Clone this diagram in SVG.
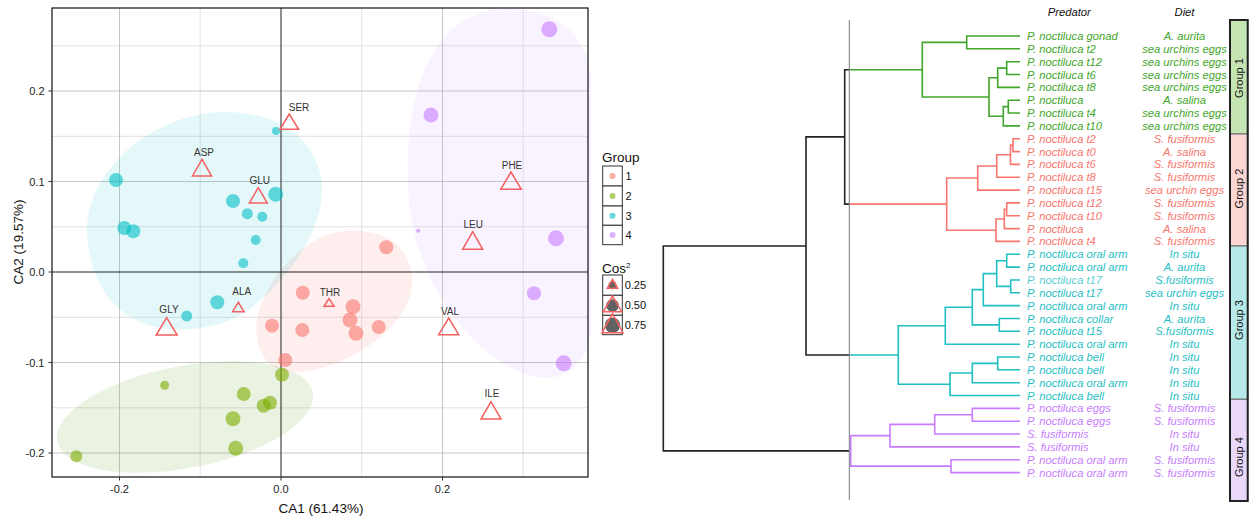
<svg xmlns="http://www.w3.org/2000/svg" width="1258" height="521" viewBox="0 0 1258 521">
<style>
text{font-family:"Liberation Sans",Arial,sans-serif}
.tick{font-size:11px;fill:#222}
.axt{font-size:13.5px;fill:#111}
.aa{font-size:10px;fill:#333;text-anchor:middle}
.tri{fill:none;stroke:#F4605F;stroke-width:1.5;stroke-linejoin:miter}
.gmaj{stroke:#b8b8b8;stroke-width:0.8}
.gmin{stroke:#e2e2e2;stroke-width:1}
.p1{fill:#F8766D;fill-opacity:.6}
.p2{fill:#7CAE00;fill-opacity:.6}
.p3{fill:#00BFC4;fill-opacity:.6}
.p4{fill:#C77CFF;fill-opacity:.6}
.lk{fill:#fff;stroke:#333;stroke-width:1}
.lt{font-size:11px;fill:#111}
.leaf{font-size:11.2px;font-style:italic}
.diet{font-size:11.2px;font-style:italic;text-anchor:middle}
.c1{fill:#3FA62A}.c2{fill:#F8766D}.c3{fill:#1FBFC4}.c4{fill:#C77CFF}
.b{fill:none;stroke-width:1.6}
.s1{stroke:#3FA62A}.s2{stroke:#F8766D}.s3{stroke:#1FBFC4}.s4{stroke:#C77CFF}.s0{stroke:#222}
.gl{font-size:11px;fill:#111;text-anchor:middle}
</style>

<g id="ca-plot">
  <rect x="52" y="8" width="536" height="469" fill="#fff"/>
  <g id="grid">
    <line class="gmin" x1="52" y1="45.8" x2="588" y2="45.8"/>
    <line class="gmin" x1="52" y1="136.3" x2="588" y2="136.3"/>
    <line class="gmin" x1="52" y1="226.8" x2="588" y2="226.8"/>
    <line class="gmin" x1="52" y1="317.3" x2="588" y2="317.3"/>
    <line class="gmin" x1="52" y1="407.8" x2="588" y2="407.8"/>
    <line class="gmin" x1="200.2" y1="8" x2="200.2" y2="477"/>
    <line class="gmin" x1="361.7" y1="8" x2="361.7" y2="477"/>
    <line class="gmin" x1="523.2" y1="8" x2="523.2" y2="477"/>
    <line class="gmaj" x1="52" y1="91" x2="588" y2="91"/>
    <line class="gmaj" x1="52" y1="181.5" x2="588" y2="181.5"/>
    <line class="gmaj" x1="52" y1="362.5" x2="588" y2="362.5"/>
    <line class="gmaj" x1="52" y1="453" x2="588" y2="453"/>
    <line class="gmaj" x1="119.5" y1="8" x2="119.5" y2="477"/>
    <line class="gmaj" x1="442.5" y1="8" x2="442.5" y2="477"/>
  </g>
  <g id="hulls">
    <path d="M408,185 C404,95 432,10 505,9 C560,8 590,40 591,80 L591,330 C588,365 565,378 545,378 C490,376 410,290 408,185 Z" fill="#C77CFF" fill-opacity="0.1"/>
    <path d="M257,338 C250,300 295,235 345,231 C390,228 413,250 412,285 C410,325 350,368 300,372 C272,374 260,358 257,338 Z" fill="#F8766D" fill-opacity="0.12"/>
    <path d="M87,232 C86,165 160,112 225,112 C290,112 323,150 322,192 C321,240 275,295 240,315 C215,330 170,335 140,322 C105,307 88,270 87,232 Z" fill="#00BFC4" fill-opacity="0.1"/>
    <ellipse cx="185" cy="417" rx="130" ry="51" transform="rotate(-10.8 185 417)" fill="#7CB342" fill-opacity="0.16"/>
  </g>
  <line x1="52" y1="272" x2="588" y2="272" stroke="#222" stroke-width="1"/>
  <line x1="281" y1="8" x2="281" y2="477" stroke="#222" stroke-width="1"/>
  <g id="points-group3">
    <circle class="p3" cx="116" cy="180" r="7"/>
    <circle class="p3" cx="124.3" cy="228" r="7"/>
    <circle class="p3" cx="133.3" cy="231.3" r="7"/>
    <circle class="p3" cx="233" cy="201" r="7"/>
    <circle class="p3" cx="247.3" cy="213.7" r="5.5"/>
    <circle class="p3" cx="262.3" cy="216.7" r="5"/>
    <circle class="p3" cx="255.7" cy="240" r="5"/>
    <circle class="p3" cx="276" cy="131" r="4"/>
    <circle class="p3" cx="275.7" cy="194.3" r="7.5"/>
    <circle class="p3" cx="243.3" cy="263.3" r="5"/>
    <circle class="p3" cx="217.3" cy="302.3" r="7"/>
    <circle class="p3" cx="186.7" cy="316" r="5.5"/>
  </g>
  <g id="points-group2">
    <circle class="p2" cx="76.3" cy="456.3" r="6"/>
    <circle class="p2" cx="164.7" cy="385.3" r="4.5"/>
    <circle class="p2" cx="243.7" cy="394" r="7"/>
    <circle class="p2" cx="233" cy="418.7" r="7.5"/>
    <circle class="p2" cx="235.7" cy="448.3" r="7.5"/>
    <circle class="p2" cx="263.7" cy="405.7" r="7"/>
    <circle class="p2" cx="270" cy="402.7" r="7"/>
    <circle class="p2" cx="282" cy="374.7" r="7"/>
  </g>
  <g id="points-group1">
    <circle class="p1" cx="386.3" cy="247.3" r="7"/>
    <circle class="p1" cx="302.7" cy="292.7" r="7"/>
    <circle class="p1" cx="353" cy="306.7" r="7.5"/>
    <circle class="p1" cx="350" cy="320" r="7.5"/>
    <circle class="p1" cx="356" cy="333.3" r="7.5"/>
    <circle class="p1" cx="378.7" cy="327" r="7"/>
    <circle class="p1" cx="272" cy="325.7" r="7"/>
    <circle class="p1" cx="302.3" cy="330" r="7"/>
    <circle class="p1" cx="285.3" cy="360" r="7"/>
  </g>
  <g id="points-group4">
    <circle class="p4" cx="549.3" cy="29.3" r="8"/>
    <circle class="p4" cx="431" cy="115" r="7.5"/>
    <circle class="p4" cx="418.3" cy="230.7" r="2"/>
    <circle class="p4" cx="556" cy="238.3" r="8"/>
    <circle class="p4" cx="534" cy="293.3" r="7"/>
    <circle class="p4" cx="563.7" cy="363.3" r="8"/>
  </g>
  <g id="amino-acids">
    <g id="aa-SER"><polygon class="tri" points="289.3,114 280,129.3 298.6,129.3"/><text class="aa" x="299" y="110.5">SER</text></g>
    <g id="aa-ASP"><polygon class="tri" points="202,159.3 192.5,176 211.5,176"/><text class="aa" x="204" y="156.2">ASP</text></g>
    <g id="aa-GLU"><polygon class="tri" points="258.3,187.7 249.3,203 267.3,203"/><text class="aa" x="259.7" y="184.2">GLU</text></g>
    <g id="aa-PHE"><polygon class="tri" points="511,172 500.7,189.3 521.3,189.3"/><text class="aa" x="512" y="169.2">PHE</text></g>
    <g id="aa-LEU"><polygon class="tri" points="472.7,231.7 462.7,249.3 482.7,249.3"/><text class="aa" x="473.3" y="227.8">LEU</text></g>
    <g id="aa-GLY"><polygon class="tri" points="166.7,317.7 156.2,335 177.2,335"/><text class="aa" x="169" y="312.5">GLY</text></g>
    <g id="aa-ALA"><polygon class="tri" points="238.3,302.3 232.6,311.7 244,311.7"/><text class="aa" x="241.7" y="294.5">ALA</text></g>
    <g id="aa-THR"><polygon class="tri" points="329,298.7 324,306.3 334,306.3"/><text class="aa" x="330" y="295.8">THR</text></g>
    <g id="aa-VAL"><polygon class="tri" points="448.7,318 438.7,334.7 458.7,334.7"/><text class="aa" x="450" y="314.5">VAL</text></g>
    <g id="aa-ILE"><polygon class="tri" points="491,401.7 481,419 501,419"/><text class="aa" x="492" y="397.2">ILE</text></g>
  </g>
  <rect x="52" y="8" width="536" height="469" fill="none" stroke="#222" stroke-width="1.3"/>
  <g id="axes" stroke="#333" stroke-width="1">
    <line x1="48.5" y1="91" x2="52" y2="91"/>
    <line x1="48.5" y1="181.5" x2="52" y2="181.5"/>
    <line x1="48.5" y1="272" x2="52" y2="272"/>
    <line x1="48.5" y1="362.5" x2="52" y2="362.5"/>
    <line x1="48.5" y1="453" x2="52" y2="453"/>
    <line x1="119.5" y1="477" x2="119.5" y2="480.5"/>
    <line x1="281" y1="477" x2="281" y2="480.5"/>
    <line x1="442.5" y1="477" x2="442.5" y2="480.5"/>
  </g>
  <g text-anchor="end">
    <text class="tick" x="44.5" y="95">0.2</text>
    <text class="tick" x="44.5" y="185.5">0.1</text>
    <text class="tick" x="44.5" y="276">0.0</text>
    <text class="tick" x="44.5" y="366.5">-0.1</text>
    <text class="tick" x="44.5" y="457">-0.2</text>
  </g>
  <g text-anchor="middle">
    <text class="tick" x="119.5" y="492.7">-0.2</text>
    <text class="tick" x="281" y="492.7">0.0</text>
    <text class="tick" x="442.5" y="492.7">0.2</text>
    <text class="axt" x="321" y="513">CA1 (61.43%)</text>
    <text class="axt" transform="translate(23,242) rotate(-90)">CA2 (19.57%)</text>
  </g>
  <g id="legend-group">
    <text x="602" y="161.5" style="font-size:13.5px;fill:#111">Group</text>
    <rect class="lk" x="602.7" y="166" width="19.6" height="20"/>
    <rect class="lk" x="602.7" y="186" width="19.6" height="20"/>
    <rect class="lk" x="602.7" y="206" width="19.6" height="19.3"/>
    <rect class="lk" x="602.7" y="225.3" width="19.6" height="19.4"/>
    <circle class="p1" cx="612.5" cy="176" r="3"/>
    <circle class="p2" cx="612.5" cy="196" r="3"/>
    <circle class="p3" cx="612.5" cy="215.7" r="3"/>
    <circle class="p4" cx="612.5" cy="235" r="3"/>
    <text class="lt" x="625.5" y="180">1</text>
    <text class="lt" x="625.5" y="200">2</text>
    <text class="lt" x="625.5" y="219.7">3</text>
    <text class="lt" x="625.5" y="239">4</text>
  </g>
  <g id="legend-cos2">
    <text x="602" y="272.5" style="font-size:13.5px;fill:#111">Cos<tspan dy="-5" style="font-size:8px">2</tspan></text>
    <rect class="lk" x="602.7" y="275" width="19.6" height="20.3"/>
    <rect class="lk" x="602.7" y="295.3" width="19.6" height="20"/>
    <rect class="lk" x="602.7" y="315.3" width="19.6" height="19.4"/>
    <circle cx="612.5" cy="285.3" r="4" fill="#000" fill-opacity="0.62"/>
    <polygon class="tri" points="612.5,279.3 607.3,288.3 617.7,288.3"/>
    <circle cx="612.5" cy="305.5" r="6.3" fill="#000" fill-opacity="0.62"/>
    <polygon class="tri" points="612.5,296 603.3,311.7 621.7,311.7"/>
    <circle cx="612.5" cy="325.2" r="7.7" fill="#000" fill-opacity="0.62"/>
    <polygon class="tri" points="612.5,313.7 602,332.7 623,332.7"/>
    <text class="lt" x="624.7" y="289.3">0.25</text>
    <text class="lt" x="624.7" y="309.3">0.50</text>
    <text class="lt" x="624.7" y="329">0.75</text>
  </g>
</g>

<g id="dendrogram">
  <g id="connectors">
    <path class="b s0" d="M849,69.7 H844.7 V204.1 H849 M844.7,136.9 H806 V355 H849 M806,246 H663.3 V450.9 H849"/>
    <path class="b s1" d="M1020,36 H966.7 V48.8 H1020 M1020,61.7 H1006.7 V74.5 H1020 M1006.7,68.1 H997.7 V87.4 H1020 M1020,100.2 H1008.3 V113 H1020 M1008.3,106.6 H1003.3 V125.9 H1020 M997.7,77.7 H989 V116.2 H1003.3 M966.7,42.4 H922.3 V97 H989 M922.3,69.7 H849"/>
    <path class="b s2" d="M1020,138.7 H1013 V151.6 H1020 M1013,145.1 H1010.5 V164.4 H1020 M1010.5,154.8 H996.7 V177.2 H1020 M996.7,166 H977.7 V190.1 H1020 M1020,202.9 H1006.7 V215.8 H1020 M1006.7,209.3 H1004.3 V228.6 H1020 M1004.3,219 H996 V241.4 H1020 M977.7,178 H946.7 V230.2 H996 M946.7,204.1 H849"/>
    <path class="b s3" d="M1020,254.3 H1006.7 V267.1 H1020 M1020,280 H1010.7 V292.8 H1020 M1006.7,260.7 H996.7 V286.4 H1010.7 M996.7,273.6 H983.3 V305.6 H1020 M1020,318.5 H999.3 V331.3 H1020 M983.3,289.6 H972.3 V324.9 H999.3 M972.3,307.3 H945.3 V344.2 H1020 M1020,357 H997.7 V369.8 H1020 M997.7,363.4 H972.3 V382.7 H1020 M972.3,373 H950 V395.5 H1020 M945.3,325.7 H898.3 V384.3 H950 M898.3,355 H849"/>
    <path class="b s4" d="M1020,408.4 H972.3 V421.2 H1020 M972.3,414.8 H934.7 V434 H1020 M934.7,424.4 H890 V446.9 H1020 M1020,459.7 H951 V472.6 H1020 M890,435.6 H850.7 V466.1 H951"/>
    <line x1="849.3" y1="20" x2="849.3" y2="500" stroke="#7a7a7a" stroke-width="1"/>
  </g>
  <text x="1069.3" y="16" style="font-size:11.2px;font-style:italic;fill:#111;text-anchor:middle">Predator</text>
  <text x="1184.5" y="16" style="font-size:11.2px;font-style:italic;fill:#111;text-anchor:middle">Diet</text>
  <g id="leaves">
    <g id="leaf-0" class="c1"><text class="leaf" x="1027" y="40">P. noctiluca gonad</text><text class="diet" x="1184.5" y="40">A. aurita</text></g>
    <g id="leaf-1" class="c1"><text class="leaf" x="1027" y="52.8">P. noctiluca t2</text><text class="diet" x="1184.5" y="52.8">sea urchins eggs</text></g>
    <g id="leaf-2" class="c1"><text class="leaf" x="1027" y="65.7">P. noctiluca t12</text><text class="diet" x="1184.5" y="65.7">sea urchins eggs</text></g>
    <g id="leaf-3" class="c1"><text class="leaf" x="1027" y="78.5">P. noctiluca t6</text><text class="diet" x="1184.5" y="78.5">sea urchins eggs</text></g>
    <g id="leaf-4" class="c1"><text class="leaf" x="1027" y="91.4">P. noctiluca t8</text><text class="diet" x="1184.5" y="91.4">sea urchins eggs</text></g>
    <g id="leaf-5" class="c1"><text class="leaf" x="1027" y="104.2">P. noctiluca</text><text class="diet" x="1184.5" y="104.2">A. salina</text></g>
    <g id="leaf-6" class="c1"><text class="leaf" x="1027" y="117">P. noctiluca t4</text><text class="diet" x="1184.5" y="117">sea urchins eggs</text></g>
    <g id="leaf-7" class="c1"><text class="leaf" x="1027" y="129.9">P. noctiluca t10</text><text class="diet" x="1184.5" y="129.9">sea urchins eggs</text></g>
    <g id="leaf-8" class="c2"><text class="leaf" x="1027" y="142.7">P. noctiluca t2</text><text class="diet" x="1184.5" y="142.7">S. fusiformis</text></g>
    <g id="leaf-9" class="c2"><text class="leaf" x="1027" y="155.6">P. noctiluca t0</text><text class="diet" x="1184.5" y="155.6">A. salina</text></g>
    <g id="leaf-10" class="c2"><text class="leaf" x="1027" y="168.4">P. noctiluca t6</text><text class="diet" x="1184.5" y="168.4">S. fusiformis</text></g>
    <g id="leaf-11" class="c2"><text class="leaf" x="1027" y="181.2">P. noctiluca t8</text><text class="diet" x="1184.5" y="181.2">S. fusiformis</text></g>
    <g id="leaf-12" class="c2"><text class="leaf" x="1027" y="194.1">P. noctiluca t15</text><text class="diet" x="1184.5" y="194.1">sea urchin eggs</text></g>
    <g id="leaf-13" class="c2"><text class="leaf" x="1027" y="206.9">P. noctiluca t12</text><text class="diet" x="1184.5" y="206.9">S. fusiformis</text></g>
    <g id="leaf-14" class="c2"><text class="leaf" x="1027" y="219.8">P. noctiluca t10</text><text class="diet" x="1184.5" y="219.8">S. fusiformis</text></g>
    <g id="leaf-15" class="c2"><text class="leaf" x="1027" y="232.6">P. noctiluca</text><text class="diet" x="1184.5" y="232.6">A. salina</text></g>
    <g id="leaf-16" class="c2"><text class="leaf" x="1027" y="245.4">P. noctiluca t4</text><text class="diet" x="1184.5" y="245.4">S. fusiformis</text></g>
    <g id="leaf-17" class="c3"><text class="leaf" x="1027" y="258.3">P. noctiluca oral arm</text><text class="diet" x="1184.5" y="258.3">In situ</text></g>
    <g id="leaf-18" class="c3"><text class="leaf" x="1027" y="271.1">P. noctiluca oral arm</text><text class="diet" x="1184.5" y="271.1">A. aurita</text></g>
    <g id="leaf-19" class="c3"><text class="leaf" x="1027" y="284" fill-opacity="0.8">P. noctiluca t17</text><text class="diet" x="1184.5" y="284">S.fusiformis</text></g>
    <g id="leaf-20" class="c3"><text class="leaf" x="1027" y="296.8">P. noctiluca t17</text><text class="diet" x="1184.5" y="296.8">sea urchin eggs</text></g>
    <g id="leaf-21" class="c3"><text class="leaf" x="1027" y="309.6">P. noctiluca oral arm</text><text class="diet" x="1184.5" y="309.6">In situ</text></g>
    <g id="leaf-22" class="c3"><text class="leaf" x="1027" y="322.5">P. noctiluca collar</text><text class="diet" x="1184.5" y="322.5">A. aurita</text></g>
    <g id="leaf-23" class="c3"><text class="leaf" x="1027" y="335.3">P. noctiluca t15</text><text class="diet" x="1184.5" y="335.3">S.fusiformis</text></g>
    <g id="leaf-24" class="c3"><text class="leaf" x="1027" y="348.2">P. noctiluca oral arm</text><text class="diet" x="1184.5" y="348.2">In situ</text></g>
    <g id="leaf-25" class="c3"><text class="leaf" x="1027" y="361">P. noctiluca bell</text><text class="diet" x="1184.5" y="361">In situ</text></g>
    <g id="leaf-26" class="c3"><text class="leaf" x="1027" y="373.8">P. noctiluca bell</text><text class="diet" x="1184.5" y="373.8">In situ</text></g>
    <g id="leaf-27" class="c3"><text class="leaf" x="1027" y="386.7">P. noctiluca oral arm</text><text class="diet" x="1184.5" y="386.7">In situ</text></g>
    <g id="leaf-28" class="c3"><text class="leaf" x="1027" y="399.5">P. noctiluca bell</text><text class="diet" x="1184.5" y="399.5">In situ</text></g>
    <g id="leaf-29" class="c4"><text class="leaf" x="1027" y="412.4">P. noctiluca eggs</text><text class="diet" x="1184.5" y="412.4">S. fusiformis</text></g>
    <g id="leaf-30" class="c4"><text class="leaf" x="1027" y="425.2">P. noctiluca eggs</text><text class="diet" x="1184.5" y="425.2">S. fusiformis</text></g>
    <g id="leaf-31" class="c4"><text class="leaf" x="1027" y="438">S. fusiformis</text><text class="diet" x="1184.5" y="438">In situ</text></g>
    <g id="leaf-32" class="c4"><text class="leaf" x="1027" y="450.9">S. fusiformis</text><text class="diet" x="1184.5" y="450.9">In situ</text></g>
    <g id="leaf-33" class="c4"><text class="leaf" x="1027" y="463.7">P. noctiluca oral arm</text><text class="diet" x="1184.5" y="463.7">S. fusiformis</text></g>
    <g id="leaf-34" class="c4"><text class="leaf" x="1027" y="476.6">P. noctiluca oral arm</text><text class="diet" x="1184.5" y="476.6">S. fusiformis</text></g>
  </g>
  <g id="group-bars">
    <g id="bar-1"><rect x="1230" y="20" width="17.7" height="114" fill="#C5E5B2" stroke="#777" stroke-width="1.2"/><text class="gl" transform="translate(1239,78) rotate(-90)" dy="0.35em">Group 1</text></g>
    <g id="bar-2"><rect x="1230" y="134" width="17.7" height="112" fill="#FBD6D3" stroke="#777" stroke-width="1.2"/><text class="gl" transform="translate(1239,188.5) rotate(-90)" dy="0.35em">Group 2</text></g>
    <g id="bar-3"><rect x="1230" y="246" width="17.7" height="153.3" fill="#B7E9EA" stroke="#777" stroke-width="1.2"/><text class="gl" transform="translate(1239,320) rotate(-90)" dy="0.35em">Group 3</text></g>
    <g id="bar-4"><rect x="1230" y="399.3" width="17.7" height="101.7" fill="#EAD8FA" stroke="#777" stroke-width="1.2"/><text class="gl" transform="translate(1239,457) rotate(-90)" dy="0.35em">Group 4</text></g>
    <rect x="1230" y="20" width="17.7" height="481" fill="none" stroke="#222" stroke-width="2"/>
  </g>
</g>
</svg>
